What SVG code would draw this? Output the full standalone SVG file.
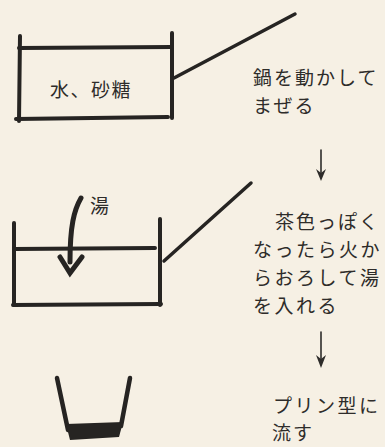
<svg xmlns="http://www.w3.org/2000/svg" width="385" height="447" viewBox="0 0 385 447">
  <defs>
    <style>
      .ink { fill: none; stroke: #262422; stroke-linecap: round; stroke-linejoin: round; }
      .wall { stroke-width: 4; }
      .handle { stroke-width: 3.5; }
      .txt { font-family: "Noto Sans CJK JP", "Liberation Serif", serif; font-size: 19px; fill: #2e2c2a; letter-spacing: 2px; }
      .thin { fill: none; stroke: #2e2c2a; stroke-width: 1.6; stroke-linecap: round; }
      .head { fill: #2e2c2a; stroke: none; }
    </style>
  </defs>
  <rect x="0" y="0" width="385" height="447" fill="#f6f0e4"/>

  <g id="pan1">
    <path class="ink wall" d="M20,36 L19,121"/>
    <path class="ink wall" d="M19,48 L172,47"/>
    <path class="ink wall" d="M172,33 L172,118"/>
    <path class="ink wall" d="M16,119 L168,117"/>
    <path class="ink handle" d="M174,78 L295,14"/>
    <text class="txt" x="50" y="97" style="letter-spacing:1.5px">水、砂糖</text>
  </g>

  <g id="step1">
    <text class="txt" x="253" y="85">鍋を動かして</text>
    <text class="txt" x="253" y="113">まぜる</text>
  </g>

  <g id="pan2">
    <path class="ink wall" d="M14,223 L14,305"/>
    <path class="ink wall" d="M14,249 L155,248"/>
    <path class="ink wall" d="M160,219 L160,305"/>
    <path class="ink wall" d="M13,305 L161,304"/>
    <path class="ink handle" d="M164,261 L251,183"/>
    <path class="ink" style="stroke-width:5" d="M81,198 C74,210 70,226 70,262"/>
    <path class="ink" style="stroke-width:5;stroke-linejoin:miter" d="M60,257 L70,273 L82,257"/>
    <text class="txt" x="90" y="213" style="letter-spacing:0">湯</text>
  </g>

  <g id="step2">
    <text class="txt" x="275" y="229">茶色っぽく</text>
    <text class="txt" x="253" y="257" style="letter-spacing:2.5px">なったら火か</text>
    <text class="txt" x="253" y="285" style="letter-spacing:2.5px">らおろして湯</text>
    <text class="txt" x="253" y="313" style="letter-spacing:2.5px">を入れる</text>
  </g>

  <g id="cup">
    <path class="ink" style="stroke-width:4.5" d="M57,378 L68,430"/>
    <path class="ink" style="stroke-width:4.5" d="M130,378 L121,426"/>
    <path fill="#262422" d="M66,424 L123,422 L119,437 L70,440 Z"/>
  </g>

  <g id="step3">
    <text class="txt" x="273" y="413" style="letter-spacing:2.5px">プリン型に</text>
    <text class="txt" x="272" y="440">流す</text>
  </g>

  <g id="connectors">
    <path class="thin" d="M321,150 L321,176"/>
    <path class="head" d="M316,169 L321,181 L326,169 L321,173 Z"/>
    <path class="thin" d="M321,332 L321,362"/>
    <path class="head" d="M316,355 L321,368 L326,355 L321,359 Z"/>
  </g>
</svg>
